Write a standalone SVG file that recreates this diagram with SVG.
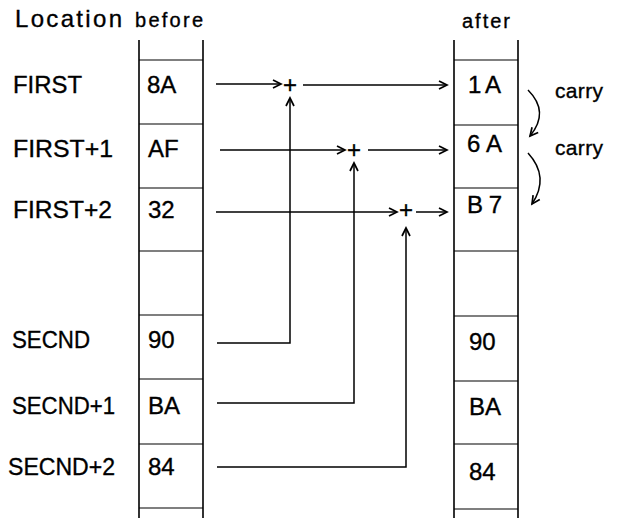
<svg xmlns="http://www.w3.org/2000/svg" width="620" height="518" viewBox="0 0 620 518">
<style>
text{font-family:"Liberation Sans",Arial,sans-serif;fill:#000;stroke:#000;stroke-width:0.35}
.lbl{font-size:24px}
.val{font-size:24px}
.hdr{font-size:20px}
.big{font-size:24px}
.car{font-size:21px}
.plus{font-size:24px;text-anchor:middle}
.col{fill:none;stroke:#000;stroke-width:1.6}
.div{stroke:#000;stroke-width:1.2}
.ln{fill:none;stroke:#000;stroke-width:1.5}
</style>
<defs>
<marker id="ah" markerUnits="userSpaceOnUse" markerWidth="12" markerHeight="12" refX="9" refY="5" orient="auto" viewBox="0 0 12 10">
<path d="M1,1 L9,5 L1,9" fill="none" stroke="#000" stroke-width="1.7"/>
</marker>
</defs>
<rect width="620" height="518" fill="#fff"/>
<g id="headers">
<text class="big" x="15" y="27" textLength="107" lengthAdjust="spacing">Location</text>
<text class="hdr" x="135" y="27" textLength="68" lengthAdjust="spacing">before</text>
<text class="hdr" x="462" y="28" textLength="48" lengthAdjust="spacing">after</text>
</g>
<g id="labels">
<text class="lbl" x="13" y="93" textLength="69" lengthAdjust="spacingAndGlyphs">FIRST</text>
<text class="lbl" x="13" y="157" textLength="100" lengthAdjust="spacingAndGlyphs">FIRST+1</text>
<text class="lbl" x="13" y="218" textLength="99" lengthAdjust="spacingAndGlyphs">FIRST+2</text>
<text class="lbl" x="12" y="348" textLength="78" lengthAdjust="spacingAndGlyphs">SECND</text>
<text class="lbl" x="12" y="414" textLength="103" lengthAdjust="spacingAndGlyphs">SECND+1</text>
<text class="lbl" x="8" y="475" textLength="107" lengthAdjust="spacingAndGlyphs">SECND+2</text>
</g>
<g id="before-column">
<path class="col" d="M139,40 V518 M203,40 V518"/>
<path class="div" d="M139,60 H203 M139,124 H203 M139,188 H203 M139,251 H203 M139,315 H203 M139,379 H203 M139,444 H203 M139,508 H203"/>
<text class="val" x="147" y="93">8A</text>
<text class="val" x="148" y="157">AF</text>
<text class="val" x="148" y="218">32</text>
<text class="val" x="148" y="348">90</text>
<text class="val" x="148" y="414">BA</text>
<text class="val" x="148" y="475">84</text>
</g>
<g id="after-column">
<path class="col" d="M454,40 V518 M518,40 V518"/>
<path class="div" d="M454,60 H518 M454,125 H518 M454,188 H518 M454,251 H518 M454,316 H518 M454,381 H518 M454,444 H518 M454,509 H518"/>
<text class="val" x="468" y="93" textLength="33" lengthAdjust="spacing">1A</text>
<text class="val" x="467" y="152" textLength="35" lengthAdjust="spacing">6A</text>
<text class="val" x="467" y="213" textLength="35" lengthAdjust="spacing">B7</text>
<text class="val" x="469" y="350">90</text>
<text class="val" x="469" y="415">BA</text>
<text class="val" x="469" y="480">84</text>
</g>
<g id="adders">
<text class="plus" x="290" y="93">+</text>
<text class="plus" x="354" y="158">+</text>
<text class="plus" x="406" y="218">+</text>
</g>
<g id="carry-labels">
<text class="car" x="555" y="98" textLength="48" lengthAdjust="spacing">carry</text>
<text class="car" x="555" y="155" textLength="48" lengthAdjust="spacing">carry</text>
</g>
<g id="connectors">
<path class="ln" d="M216,84 H281" marker-end="url(#ah)"/>
<path class="ln" d="M303,85 H447" marker-end="url(#ah)"/>
<path class="ln" d="M220,150 H345" marker-end="url(#ah)"/>
<path class="ln" d="M368,150 H447" marker-end="url(#ah)"/>
<path class="ln" d="M216,212 H397" marker-end="url(#ah)"/>
<path class="ln" d="M416,212 H447" marker-end="url(#ah)"/>
<path class="ln" d="M217,343 H290 V98" marker-end="url(#ah)"/>
<path class="ln" d="M217,403 H354 V163" marker-end="url(#ah)"/>
<path class="ln" d="M217,467 H406 V228" marker-end="url(#ah)"/>
<path class="ln" d="M528,90 Q550,112 530,136" marker-end="url(#ah)"/>
<path class="ln" d="M528,153 Q550,177 532,204" marker-end="url(#ah)"/>
</g>
</svg>
